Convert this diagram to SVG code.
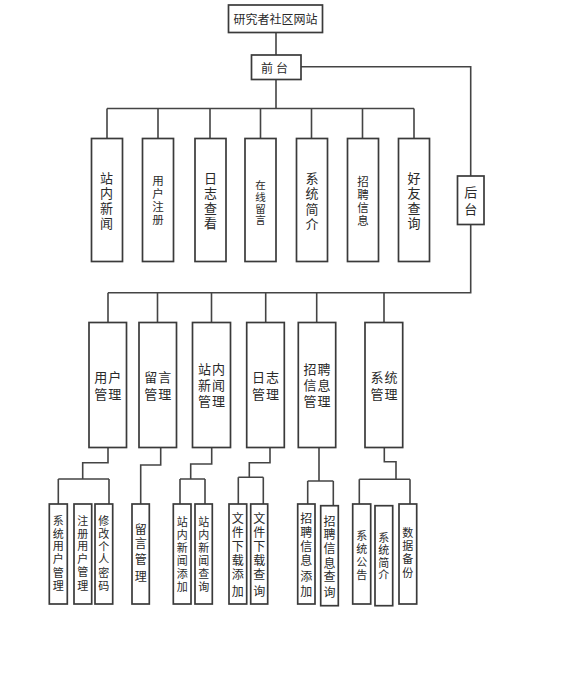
<svg xmlns="http://www.w3.org/2000/svg" width="584" height="674" viewBox="0 0 584 674">
<style>
.box{fill:#fff;stroke:#3a3a3a;stroke-width:1.7}
.ln{fill:none;stroke:#444;stroke-width:1.6}
text{font-family:"Noto Sans CJK SC","Noto Sans CJK JP",sans-serif;fill:#2a2a2a;text-anchor:middle;dominant-baseline:central}
.f12{font-size:12px}
.f13{font-size:13px}
.f11{font-size:11px}
.f10{font-size:10.5px}
.f115{font-size:11.5px}
</style>
<rect x="0" y="0" width="584" height="674" fill="#fff"/>
<g id="connectors">
<path class="ln" d="M276,32.5V55M276,79.5V108.5M107,108.5H414M107,108.5V138.5M158,108.5V138.5M210,108.5V138.5M260.5,108.5V138.5M311.5,108.5V138.5M362.5,108.5V138.5M414,108.5V138.5"/>
<path class="ln" d="M301,66.7H470.7V176M470.7,224.5V292.7H108M108,292.7V322.5M157.5,292.7V322.5M211.5,292.7V322.5M265.7,292.7V322.5M316.7,292.7V322.5M384,292.7V322.5"/>
<path class="ln" d="M108,447.5V462.7H82.7V479M58.3,479H109M58.3,479V504M109,479V504"/>
<path class="ln" d="M160.7,447.5V465H140.7V504"/>
<path class="ln" d="M211.7,447.5V464H190.7V479M180,479H205M180,479V504M205,479V504"/>
<path class="ln" d="M270,447.5V462.7H249.3V477.3M238.3,477.3H263.3M238.3,477.3V504M263.3,477.3V504"/>
<path class="ln" d="M319,447.5V481M307.7,481H333.3M307.7,481V504M333.3,481V505.7"/>
<path class="ln" d="M384.3,447.5V461.7H396V479.3M359.3,479.3H410M359.3,479.3V504M410,479.3V504"/>
</g>
<g id="root"><rect class="box" x="228.5" y="5" width="94" height="27.5"/><text class="f12" x="275.5" y="18.5">研究者社区网站</text></g>
<g id="qiantai"><rect class="box" x="251.5" y="55" width="49.5" height="24.5"/><text class="f12" x="276" y="67.5" letter-spacing="3">前台</text></g>
<g id="houtai"><rect class="box" x="457.5" y="176" width="26.5" height="48.5"/><text class="f13" x="470.7"><tspan x="470.7" y="190.7">后</tspan><tspan x="470.7" y="208.3">台</tspan></text></g>

<g id="f1"><rect class="box" x="91.5" y="138.5" width="31" height="123"/><text class="f13"><tspan x="106.5" y="176.7">站</tspan><tspan x="106.5" y="191.7">内</tspan><tspan x="106.5" y="206.7">新</tspan><tspan x="106.5" y="221.7">闻</tspan></text></g>
<g id="f2"><rect class="box" x="142.5" y="138.5" width="31" height="123"/><text class="f115"><tspan x="158" y="180">用</tspan><tspan x="158" y="193.3">户</tspan><tspan x="158" y="206.3">注</tspan><tspan x="158" y="219.3">册</tspan></text></g>
<g id="f3"><rect class="box" x="195" y="138.5" width="31" height="123"/><text class="f13"><tspan x="210.5" y="176.5">日</tspan><tspan x="210.5" y="191.7">志</tspan><tspan x="210.5" y="206.7">查</tspan><tspan x="210.5" y="221.7">看</tspan></text></g>
<g id="f4"><rect class="box" x="245" y="138.5" width="31" height="123"/><text class="f10"><tspan x="260.5" y="184">在</tspan><tspan x="260.5" y="196">线</tspan><tspan x="260.5" y="207.5">留</tspan><tspan x="260.5" y="219">言</tspan></text></g>
<g id="f5"><rect class="box" x="296.5" y="138.5" width="31" height="123"/><text class="f13"><tspan x="312" y="176.7">系</tspan><tspan x="312" y="192.3">统</tspan><tspan x="312" y="207.5">简</tspan><tspan x="312" y="222.7">介</tspan></text></g>
<g id="f6"><rect class="box" x="347.5" y="138.5" width="31" height="123"/><text class="f115"><tspan x="363" y="180.5">招</tspan><tspan x="363" y="193.7">聘</tspan><tspan x="363" y="207">信</tspan><tspan x="363" y="220.3">息</tspan></text></g>
<g id="f7"><rect class="box" x="398.5" y="138.5" width="31" height="123"/><text class="f13"><tspan x="414" y="176.7">好</tspan><tspan x="414" y="191.7">友</tspan><tspan x="414" y="206.7">查</tspan><tspan x="414" y="221.7">询</tspan></text></g>

<g id="m1"><rect class="box" x="89" y="322.5" width="37.5" height="125"/><text class="f13" letter-spacing="1"><tspan x="108.2" y="376">用户</tspan><tspan x="108.2" y="392.7">管理</tspan></text></g>
<g id="m2"><rect class="box" x="139" y="322.5" width="37.5" height="125"/><text class="f13" letter-spacing="1"><tspan x="158.2" y="376">留言</tspan><tspan x="158.2" y="392.7">管理</tspan></text></g>
<g id="m3"><rect class="box" x="192.5" y="322.5" width="38" height="125"/><text class="f13" letter-spacing="1"><tspan x="212" y="368.3">站内</tspan><tspan x="212" y="384.3">新闻</tspan><tspan x="212" y="400">管理</tspan></text></g>
<g id="m4"><rect class="box" x="246.7" y="322.5" width="37.6" height="125"/><text class="f13" letter-spacing="1"><tspan x="266" y="376">日志</tspan><tspan x="266" y="392.7">管理</tspan></text></g>
<g id="m5"><rect class="box" x="298.3" y="322.5" width="37.4" height="125"/><text class="f13" letter-spacing="1"><tspan x="317.5" y="368.3">招聘</tspan><tspan x="317.5" y="384.3">信息</tspan><tspan x="317.5" y="400">管理</tspan></text></g>
<g id="m6"><rect class="box" x="365" y="322.5" width="37.7" height="125"/><text class="f13" letter-spacing="1"><tspan x="384.4" y="376">系统</tspan><tspan x="384.4" y="392.7">管理</tspan></text></g>

<g id="b1"><rect class="box" x="49.3" y="504" width="18" height="100"/><text class="f11"><tspan x="58.3" y="520">系</tspan><tspan x="58.3" y="532.5">统</tspan><tspan x="58.3" y="545">用</tspan><tspan x="58.3" y="557.5">户</tspan><tspan x="58.3" y="571.5">管</tspan><tspan x="58.3" y="585">理</tspan></text></g>
<g id="b2"><rect class="box" x="74" y="504" width="17.7" height="100"/><text class="f11"><tspan x="82.8" y="520">注</tspan><tspan x="82.8" y="532.5">册</tspan><tspan x="82.8" y="545">用</tspan><tspan x="82.8" y="558">户</tspan><tspan x="82.8" y="571">管</tspan><tspan x="82.8" y="585">理</tspan></text></g>
<g id="b3"><rect class="box" x="95" y="504" width="17.7" height="100"/><text class="f11"><tspan x="103.8" y="520">修</tspan><tspan x="103.8" y="532.7">改</tspan><tspan x="103.8" y="546">个</tspan><tspan x="103.8" y="558.3">人</tspan><tspan x="103.8" y="571.7">密</tspan><tspan x="103.8" y="585">码</tspan></text></g>
<g id="b4"><rect class="box" x="132" y="504" width="17.3" height="100"/><text class="f12"><tspan x="140.7" y="528.3">留</tspan><tspan x="140.7" y="541.7">言</tspan><tspan x="140.7" y="558.3">管</tspan><tspan x="140.7" y="575">理</tspan></text></g>
<g id="b5"><rect class="box" x="173.3" y="504" width="17.7" height="100"/><text class="f11"><tspan x="182.2" y="520.5">站</tspan><tspan x="182.2" y="534">内</tspan><tspan x="182.2" y="547">新</tspan><tspan x="182.2" y="559.5">闻</tspan><tspan x="182.2" y="572.5">添</tspan><tspan x="182.2" y="585.7">加</tspan></text></g>
<g id="b6"><rect class="box" x="195" y="504" width="17.3" height="100"/><text class="f11"><tspan x="203.7" y="520.5">站</tspan><tspan x="203.7" y="534">内</tspan><tspan x="203.7" y="547">新</tspan><tspan x="203.7" y="559.5">闻</tspan><tspan x="203.7" y="572.7">查</tspan><tspan x="203.7" y="585.7">询</tspan></text></g>
<g id="b7"><rect class="box" x="229" y="504" width="17.7" height="100"/><text class="f12"><tspan x="237.8" y="517">文</tspan><tspan x="237.8" y="530.5">件</tspan><tspan x="237.8" y="545">下</tspan><tspan x="237.8" y="558.5">载</tspan><tspan x="237.8" y="573.3">添</tspan><tspan x="237.8" y="589.5">加</tspan></text></g>
<g id="b8"><rect class="box" x="250.7" y="504" width="17" height="100"/><text class="f12"><tspan x="259.2" y="517">文</tspan><tspan x="259.2" y="530.5">件</tspan><tspan x="259.2" y="545">下</tspan><tspan x="259.2" y="558.5">载</tspan><tspan x="259.2" y="573.3">查</tspan><tspan x="259.2" y="589.5">询</tspan></text></g>
<g id="b9"><rect class="box" x="297.7" y="504" width="17.3" height="100"/><text class="f12"><tspan x="306.3" y="517">招</tspan><tspan x="306.3" y="530.5">聘</tspan><tspan x="306.3" y="545">信</tspan><tspan x="306.3" y="558.5">息</tspan><tspan x="306.3" y="575">添</tspan><tspan x="306.3" y="589.5">加</tspan></text></g>
<g id="b10"><rect class="box" x="320.7" y="505.7" width="17.6" height="100"/><text class="f12"><tspan x="329.5" y="520">招</tspan><tspan x="329.5" y="533.3">聘</tspan><tspan x="329.5" y="546.7">信</tspan><tspan x="329.5" y="561.5">息</tspan><tspan x="329.5" y="575">查</tspan><tspan x="329.5" y="591">询</tspan></text></g>
<g id="b11"><rect class="box" x="352.7" y="504" width="18" height="100"/><text class="f11"><tspan x="361.7" y="535">系</tspan><tspan x="361.7" y="548">统</tspan><tspan x="361.7" y="561">公</tspan><tspan x="361.7" y="573.5">告</tspan></text></g>
<g id="b12"><rect class="box" x="375" y="505.7" width="17.7" height="100"/><text class="f11"><tspan x="383.8" y="536.5">系</tspan><tspan x="383.8" y="549">统</tspan><tspan x="383.8" y="561.7">简</tspan><tspan x="383.8" y="574.3">介</tspan></text></g>
<g id="b13"><rect class="box" x="399" y="504" width="17.7" height="100"/><text class="f11"><tspan x="407.8" y="532">数</tspan><tspan x="407.8" y="545">据</tspan><tspan x="407.8" y="557.5">备</tspan><tspan x="407.8" y="571.5">份</tspan></text></g>
</svg>
